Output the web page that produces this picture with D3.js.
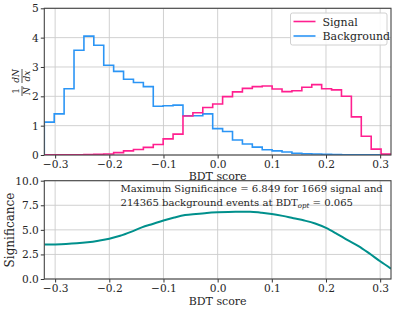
<!DOCTYPE html>
<html><head><meta charset="utf-8">
<script src="https://cdn.jsdelivr.net/npm/d3@7"></script>
<style>
body{margin:0;background:#fff;}
svg{display:block;}
text{font-family:"DejaVu Serif",serif;fill:#262626;}
</style></head><body>
<script>
// ---- data ----
const binRange = [-0.32, 0.32];
const nBins = 35;
const signalVals = [0.005,0.005,0.008,0.01,0.015,0.02,0.035,0.08,0.14,0.19,0.26,0.36,0.55,0.71,1.33,1.44,1.62,1.74,1.99,2.15,2.27,2.33,2.35,2.25,2.16,2.19,2.31,2.40,2.26,2.22,2.00,1.30,0.64,0.20,0.03];
const backgroundVals = [1.12,1.40,2.26,3.57,4.05,3.74,3.06,2.85,2.58,2.47,2.33,1.66,1.68,1.70,1.34,1.34,1.40,0.90,0.80,0.51,0.375,0.27,0.18,0.14,0.10,0.06,0.045,0.035,0.02,0.015,0.01,0.008,0.005,0.003,0.002];
const sigX = [-0.32,-0.30,-0.28,-0.26,-0.24,-0.22,-0.20,-0.18,-0.16,-0.14,-0.12,-0.10,-0.08,-0.06,-0.04,-0.02,0.00,0.02,0.04,0.06,0.08,0.10,0.12,0.14,0.16,0.18,0.20,0.22,0.24,0.26,0.28,0.30,0.32];
const sigY = [3.50,3.52,3.56,3.63,3.74,3.90,4.10,4.40,4.80,5.25,5.60,5.95,6.25,6.50,6.62,6.72,6.78,6.82,6.84,6.85,6.75,6.62,6.42,6.18,5.95,5.65,5.20,4.60,3.95,3.35,2.60,1.80,1.05];
const xTicks = [-0.3,-0.2,-0.1,0.0,0.1,0.2,0.3];
const yTicksTop = [0,1,2,3,4,5];
const yTicksBot = [0,2.5,5,7.5,10];
const seriesNames = ["Signal","Background"];
const colors = {Signal:"#ff1f8f", Background:"#2b95f5", sig:"#00908c"};

const W=399,H=310;
const svg=d3.select("body").append("svg").attr("width",W).attr("height",H);
const L=44.3,R=391;
const top1=[8.3,155], top2=[180.7,279];

const x=d3.scaleLinear().domain([-0.32,0.32]).range([L,R]);
const y1=d3.scaleLinear().domain([0,5]).range([top1[1],top1[0]]);
const y2=d3.scaleLinear().domain([0,10]).range([top2[1],top2[0]]);

svg.append("defs").selectAll("clipPath").data([["c1",top1],["c2",top2]]).join("clipPath")
  .attr("id",d=>d[0]).append("rect").attr("x",L).attr("width",R-L).attr("y",d=>d[1][0]).attr("height",d=>d[1][1]-d[1][0]);

function panel(yScale, yticks, ext){
  const g=svg.append("g");
  g.selectAll(".gx").data(xTicks).join("line").attr("x1",d=>x(d)).attr("x2",d=>x(d))
    .attr("y1",ext[0]).attr("y2",ext[1]).attr("stroke","#cccccc").attr("stroke-width",0.9);
  g.selectAll(".gy").data(yticks).join("line").attr("y1",d=>yScale(d)).attr("y2",d=>yScale(d))
    .attr("x1",L).attr("x2",R).attr("stroke","#cccccc").attr("stroke-width",0.9);
  return g;
}
function axes(yScale, yticks, fmt, ext){
  const ax=svg.append("g").attr("transform",`translate(0,${ext[1]})`)
    .call(d3.axisBottom(x).tickValues(xTicks).tickSize(3.5).tickPadding(1.5).tickFormat(d=>d3.format(".1f")(d).replace("-","\u2212")));
  const ay=svg.append("g").attr("transform",`translate(${L},0)`)
    .call(d3.axisLeft(yScale).tickValues(yticks).tickSize(3.5).tickPadding(2).tickFormat(fmt));
  [ax,ay].forEach(a=>{a.select(".domain").remove();a.selectAll("line").attr("stroke","#333");
    a.selectAll("text").attr("font-family","DejaVu Serif").attr("font-size",10.6).attr("fill","#262626");});
  svg.append("rect").attr("x",L).attr("y",ext[0]).attr("width",R-L).attr("height",ext[1]-ext[0])
    .attr("fill","none").attr("stroke","#444").attr("stroke-width",1.1);
}

// top panel
panel(y1,yTicksTop,top1);
const edges=d3.range(nBins+1).map(i=>binRange[0]+i*(binRange[1]-binRange[0])/nBins);
function stepPts(vals){
  const pts=[[edges[0],0]];
  vals.forEach((v,i)=>{pts.push([edges[i],v]);pts.push([edges[i+1],v]);});
  pts.push([edges[nBins],0]);
  return pts;
}
const line1=d3.line().x(d=>x(d[0])).y(d=>y1(d[1]));
[["Background",backgroundVals],["Signal",signalVals]].forEach(([n,v])=>{
  svg.append("path").attr("d",line1(stepPts(v))).attr("fill","none").attr("stroke",colors[n])
    .attr("stroke-width",1.6).attr("clip-path","url(#c1)");
});
axes(y1,yTicksTop,d3.format("d"),top1);
svg.append("text").attr("x",(L+R)/2).attr("y",180).attr("text-anchor","middle").attr("font-size",11).text("BDT score");

// legend
const lg=svg.append("g");
lg.append("rect").attr("x",290.5).attr("y",13).attr("width",96.5).attr("height",32).attr("rx",2)
  .attr("fill","#fff").attr("fill-opacity",0.85).attr("stroke","#d0d0d0");
seriesNames.forEach((n,i)=>{
  const yy=21.5+i*14.5;
  lg.append("line").attr("x1",293.5).attr("x2",315.5).attr("y1",yy).attr("y2",yy).attr("stroke",colors[n]).attr("stroke-width",1.6);
  lg.append("text").attr("x",322.5).attr("y",yy+4).attr("font-size",11).text(n);
});

// y label top (fraction)
const yl=svg.append("g").attr("transform","translate(22,82) rotate(-90)");
const mf="DejaVu Sans";
yl.append("text").attr("x",-9).attr("y",-3).attr("text-anchor","middle").attr("font-family",mf).attr("font-size",9).text("1");
yl.append("text").attr("x",-9).attr("y",8).attr("text-anchor","middle").attr("font-family",mf).attr("font-size",9).attr("font-style","italic").text("N");
yl.append("line").attr("x1",-14).attr("x2",-4).attr("y1",0).attr("y2",0).attr("stroke","#262626").attr("stroke-width",0.8);
yl.append("text").attr("x",6).attr("y",-3).attr("text-anchor","middle").attr("font-family",mf).attr("font-size",9).attr("font-style","italic").text("dN");
yl.append("text").attr("x",6).attr("y",8).attr("text-anchor","middle").attr("font-family",mf).attr("font-size",9).attr("font-style","italic").text("dx");
yl.append("line").attr("x1",-1).attr("x2",13).attr("y1",0).attr("y2",0).attr("stroke","#262626").attr("stroke-width",0.8);

// bottom panel
panel(y2,yTicksBot,top2);
const line2=d3.line().x((d,i)=>x(sigX[i])).y(d=>y2(d)).curve(d3.curveMonotoneX);
svg.append("path").attr("d",line2(sigY)).attr("fill","none").attr("stroke",colors.sig).attr("stroke-width",2).attr("clip-path","url(#c2)");
axes(y2,yTicksBot,d3.format(".1f"),top2);
svg.append("text").attr("x",(L+R)/2).attr("y",305).attr("text-anchor","middle").attr("font-size",11).text("BDT score");
svg.append("text").attr("transform","translate(14,230) rotate(-90)").attr("text-anchor","middle").attr("font-size",12).text("Significance");

const fs=10.05;
svg.append("text").attr("x",120.5).attr("y",192).attr("font-size",fs).text("Maximum Significance = 6.849 for 1669 signal and");
const t2=svg.append("text").attr("x",120.5).attr("y",205.5).attr("font-size",fs);
t2.append("tspan").text("214365 background events at BDT");
t2.append("tspan").attr("font-size",7).attr("font-style","italic").attr("dy",2).text("opt");
t2.append("tspan").attr("dy",-2).text(" = 0.065");
</script>
</body></html>
